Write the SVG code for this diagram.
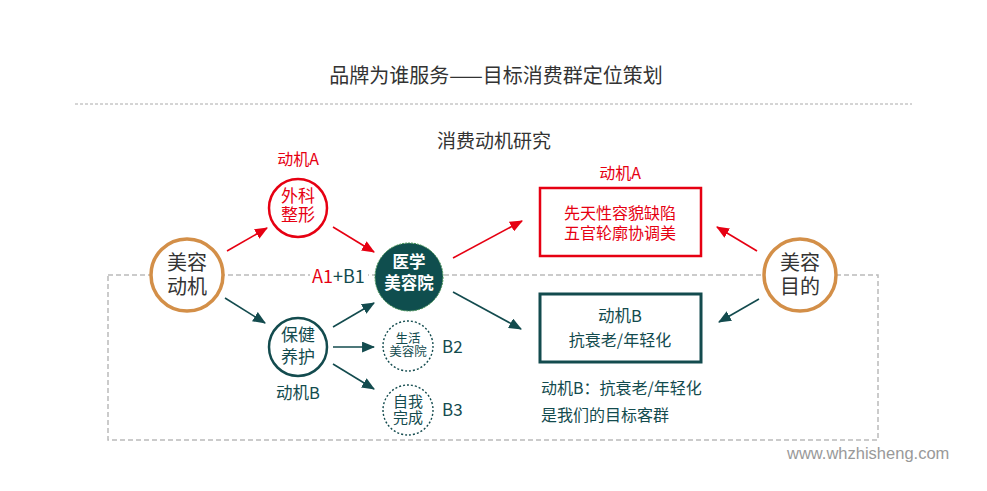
<svg xmlns="http://www.w3.org/2000/svg" width="987" height="491" viewBox="0 0 987 491">
<style>
text{font-family:"Noto Sans CJK SC","Liberation Sans",sans-serif;}
.c{text-anchor:middle;}
.red{fill:#E60012;}
.teal{fill:#134B4E;}
.gray{fill:#333333;}
.lr{stroke:#E60012;stroke-width:1.6;fill:none;marker-end:url(#ar);}
.lt{stroke:#134B4E;stroke-width:1.6;fill:none;marker-end:url(#at);}
.tan{fill:#fff;stroke:#D38F48;stroke-width:3.5;}
.dot{fill:#fff;stroke:#134B4E;stroke-width:1.4;stroke-dasharray:2 2;}
</style>
<defs>
<marker id="ar" viewBox="0 0 12 10" refX="11" refY="5" markerWidth="13" markerHeight="11" markerUnits="userSpaceOnUse" orient="auto"><path d="M0,0 L12,5 L0,10 z" fill="#E60012"/></marker>
<marker id="at" viewBox="0 0 12 10" refX="11" refY="5" markerWidth="13" markerHeight="11" markerUnits="userSpaceOnUse" orient="auto"><path d="M0,0 L12,5 L0,10 z" fill="#134B4E"/></marker>
</defs>
<rect width="987" height="491" fill="#fff"/>
<g id="header">
<text class="c gray" x="496" y="83" font-size="20">品牌为谁服务——目标消费群定位策划</text>
<line x1="75" y1="104" x2="912" y2="104" stroke="#aaaaaa" stroke-width="1" stroke-dasharray="3 2"/>
<text class="c gray" x="494" y="148" font-size="19">消费动机研究</text>
</g>
<g id="frame">
<rect x="108" y="275" width="770" height="165" fill="none" stroke="#bbbbbb" stroke-width="1.5" stroke-dasharray="5 3"/>
</g>
<g id="connectors">
<line class="lr" x1="227" y1="251" x2="267" y2="228"/>
<line class="lr" x1="333" y1="227" x2="374" y2="252"/>
<line class="lr" x1="453" y1="258" x2="522" y2="221"/>
<line class="lr" x1="757" y1="251" x2="717" y2="227"/>
<line class="lt" x1="225" y1="298" x2="265" y2="323"/>
<line class="lt" x1="333" y1="327" x2="374" y2="303"/>
<line class="lt" x1="333" y1="347" x2="374" y2="347"/>
<line class="lt" x1="333" y1="364" x2="374" y2="389"/>
<line class="lt" x1="453" y1="292" x2="521" y2="329"/>
<line class="lt" x1="759" y1="299" x2="719" y2="322"/>
</g>
<g id="node-motive">
<circle class="tan" cx="187" cy="275" r="36"/>
<text class="c gray" font-size="20"><tspan x="187" y="270">美容</tspan><tspan x="187" y="294">动机</tspan></text>
</g>
<g id="node-surgery">
<text class="c red" x="298" y="165" font-size="16">动机A</text>
<circle cx="298" cy="208" r="29" fill="#fff" stroke="#E60012" stroke-width="2.5"/>
<text class="c red" font-size="17"><tspan x="298" y="202">外科</tspan><tspan x="298" y="221">整形</tspan></text>
</g>
<g id="node-care">
<circle cx="298" cy="347" r="29" fill="#fff" stroke="#134B4E" stroke-width="2.5"/>
<text class="c teal" font-size="17"><tspan x="298" y="341">保健</tspan><tspan x="298" y="363">养护</tspan></text>
<text class="c teal" x="298" y="399" font-size="16.5">动机B</text>
</g>
<g id="label-a1b1">
<rect x="310" y="266" width="58" height="20" fill="#fff"/>
<text x="312" y="283" font-size="18"><tspan class="red">A1</tspan><tspan class="teal">+B1</tspan></text>
</g>
<g id="node-medical">
<circle cx="409" cy="277" r="34" fill="#0F4E4E" stroke="#3E8E4E" stroke-width="1" stroke-dasharray="2 1"/>
<text class="c" font-size="16.5" font-weight="bold" fill="#fff"><tspan x="409" y="268">医学</tspan><tspan x="409" y="289">美容院</tspan></text>
</g>
<g id="node-life">
<circle class="dot" cx="408" cy="346" r="25"/>
<text class="c teal" font-size="12.5"><tspan x="408" y="342.5">生活</tspan><tspan x="408" y="355.5">美容院</tspan></text>
<text class="teal" x="442" y="353" font-size="17">B2</text>
</g>
<g id="node-self">
<circle class="dot" cx="408" cy="410" r="25"/>
<text class="c teal" font-size="15"><tspan x="408" y="407">自我</tspan><tspan x="408" y="423">完成</tspan></text>
<text class="teal" x="442" y="416" font-size="17">B3</text>
</g>
<g id="box-a">
<text class="c red" x="620" y="179" font-size="16">动机A</text>
<rect x="540" y="188" width="161" height="68" fill="#fff" stroke="#E60012" stroke-width="2.5"/>
<text class="c red" font-size="16"><tspan x="620" y="219">先天性容貌缺陷</tspan><tspan x="620" y="239">五官轮廓协调美</tspan></text>
</g>
<g id="box-b">
<rect x="540" y="294" width="161" height="68" fill="#fff" stroke="#134B4E" stroke-width="3"/>
<text class="c teal" x="620" y="322" font-size="16.5">动机B</text>
<text class="c teal" x="620" y="346" font-size="16">抗衰老/年轻化</text>
</g>
<g id="node-purpose">
<circle class="tan" cx="800" cy="275" r="36"/>
<text class="c gray" font-size="20"><tspan x="800" y="270">美容</tspan><tspan x="800" y="294">目的</tspan></text>
</g>
<g id="note">
<text class="teal" x="541" y="394" font-size="16">动机B：抗衰老/年轻化</text>
<text class="teal" x="541" y="421" font-size="16">是我们的目标客群</text>
</g>
<g id="footer">
<text x="787" y="459" font-size="16.5" fill="#999999" style="font-family:'Liberation Sans',sans-serif">www.whzhisheng.com</text>
</g>
</svg>
